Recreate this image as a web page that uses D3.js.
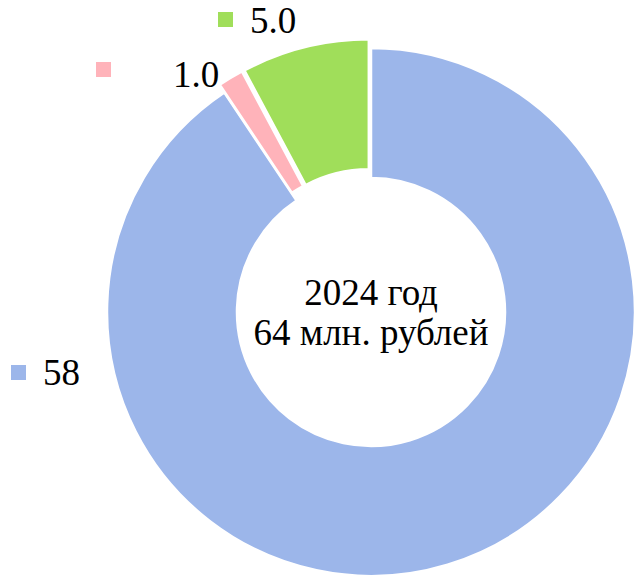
<!DOCTYPE html>
<html>
<head>
<meta charset="utf-8">
<script src="https://cdn.jsdelivr.net/npm/d3@7"></script>
<style>
  html, body { margin: 0; padding: 0; background: #fff; }
  svg { display: block; }
</style>
</head>
<body>
<div id="chart"></div>
<script>
const categories = ["Основная", "Прочее", "Дополнительная"];
const values = [58, 1.0, 5.0];
const valueLabels = ["58", "1.0", "5.0"];
const colors = ["#9cb6ea", "#ffb3ba", "#a0de5a"];
const exploded = [false, true, true];
const centerLines = ["2024 год", "64 млн. рублей"];

const width = 635;
const height = 576;
const cx = 371, cy = 312;
const outerR = 264, innerR = 134;
const explode = 9;
const fontSize = 37;
const fontFamily = "Liberation Serif";

// label placement (legend-key square + value), relative to the chart centre
const labelPos = [
  { x: -328, y: 73, kx: -32, ky: -20 },   // 58
  { x: -198, y: -225, kx: -77, ky: -25 }, // 1.0
  { x: -121, y: -279, kx: -32, ky: -21 }  // 5.0
];

const svg = d3.select("#chart")
  .append("svg")
  .attr("width", width)
  .attr("height", height);

const g = svg.append("g").attr("transform", `translate(${cx},${cy})`);

const pie = d3.pie().sort(null).value(d => d);
const arcs = pie(values);

const arc = d3.arc().innerRadius(innerR).outerRadius(outerR);

g.selectAll("path")
  .data(arcs)
  .join("path")
  .attr("d", arc)
  .attr("transform", (d, i) => {
    if (!exploded[i]) return null;
    const a = (d.startAngle + d.endAngle) / 2;
    return `translate(${Math.sin(a) * explode},${-Math.cos(a) * explode})`;
  })
  .attr("fill", (d, i) => colors[i])
  .attr("stroke", "#fff")
  .attr("stroke-width", 2.5);

// value labels with legend keys
const lab = g.selectAll("g.lab")
  .data(arcs)
  .join("g")
  .attr("class", "lab")
  .attr("transform", (d, i) => `translate(${labelPos[i].x},${labelPos[i].y})`);

lab.append("rect")
  .attr("x", (d, i) => labelPos[i].kx)
  .attr("y", (d, i) => labelPos[i].ky)
  .attr("width", 15)
  .attr("height", 15)
  .attr("fill", (d, i) => colors[i]);

lab.append("text")
  .attr("x", 0)
  .attr("y", 0)
  .attr("font-family", fontFamily)
  .attr("font-size", fontSize)
  .attr("fill", "#000")
  .text((d, i) => valueLabels[i]);

// centre text
g.selectAll("text.center")
  .data(centerLines)
  .join("text")
  .attr("class", "center")
  .attr("text-anchor", "middle")
  .attr("y", (d, i) => -7 + i * 40)
  .attr("font-family", fontFamily)
  .attr("font-size", fontSize)
  .attr("fill", "#000")
  .text(d => d);
</script>
</body>
</html>
